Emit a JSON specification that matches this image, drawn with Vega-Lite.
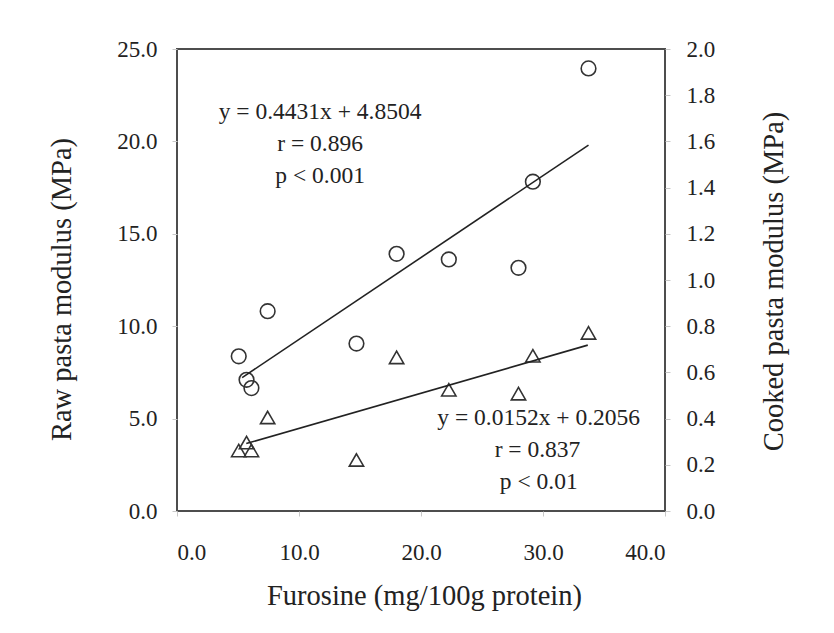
{
  "$schema": "https://vega.github.io/schema/vega-lite/v6.json",
  "width": 488,
  "height": 462,
  "autosize": "none",
  "padding": {"left": 177, "top": 49, "right": 169, "bottom": 122},
  "background": "white",
  "config": {
    "view": {"stroke": "#4d4d4d", "strokeWidth": 2},
    "axis": {
      "domain": false,
      "grid": false,
      "labelFont": "Liberation Serif",
      "titleFont": "Liberation Serif",
      "labelFontSize": 23,
      "titleFontSize": 28.5,
      "labelColor": "#222222",
      "titleColor": "#222222",
      "titleFontWeight": "normal",
      "tickColor": "#c8c8c8",
      "tickSize": 5
    },
    "text": {"font": "Liberation Serif"}
  },
  "datasets": {
    "samples": [
      {"furosine": 5.06, "raw": 8.37, "cooked": 0.262},
      {"furosine": 5.7, "raw": 7.1, "cooked": 0.296},
      {"furosine": 6.1, "raw": 6.65, "cooked": 0.262},
      {"furosine": 7.43, "raw": 10.81, "cooked": 0.405},
      {"furosine": 14.71, "raw": 9.06, "cooked": 0.221},
      {"furosine": 18.0, "raw": 13.92, "cooked": 0.665},
      {"furosine": 22.28, "raw": 13.61, "cooked": 0.525},
      {"furosine": 27.99, "raw": 13.16, "cooked": 0.508},
      {"furosine": 29.17, "raw": 17.82, "cooked": 0.672},
      {"furosine": 33.73, "raw": 23.95, "cooked": 0.771}
    ],
    "rawfit": [
      {"furosine": 5.34, "raw": 7.22},
      {"furosine": 33.73, "raw": 19.8}
    ],
    "cookedfit": [
      {"furosine": 5.68, "cooked": 0.292},
      {"furosine": 33.67, "cooked": 0.718}
    ],
    "rawnotes": [
      {"furosine": 11.73, "raw": 21.6, "label": "y = 0.4431x + 4.8504"},
      {"furosine": 11.73, "raw": 19.85, "label": "r = 0.896"},
      {"furosine": 11.73, "raw": 18.13, "label": "p < 0.001"}
    ],
    "cookednotes": [
      {"furosine": 29.65, "cooked": 0.402, "label": "y = 0.0152x + 0.2056"},
      {"furosine": 29.55, "cooked": 0.262, "label": "r = 0.837"},
      {"furosine": 29.65, "cooked": 0.127, "label": "p < 0.01"}
    ]
  },
  "layer": [
    {
      "layer": [
        {
          "data": {"name": "samples"},
          "mark": {"type": "point", "shape": "circle", "filled": false, "size": 215, "stroke": "#333333", "strokeWidth": 1.6, "opacity": 1},
          "encoding": {
            "x": {
              "field": "furosine", "type": "quantitative",
              "scale": {"domain": [0, 40], "nice": false},
              "axis": {
                "title": "Furosine (mg/100g protein)",
                "values": [0, 10, 20, 30, 40],
                "format": ".1f",
                "labelBaseline": "middle",
                "labelPadding": 36,
                "titleX": 247,
                "titleY": 84,
                "titleBaseline": "middle",
                "titleAlign": "center"
              }
            },
            "y": {
              "field": "raw", "type": "quantitative",
              "scale": {"domain": [0, 25], "nice": false},
              "axis": {
                "title": "Raw pasta modulus (MPa)",
                "values": [0, 5, 10, 15, 20, 25],
                "format": ".1f",
                "labelBaseline": "middle",
                "labelPadding": 15,
                "titleAngle": 270,
                "titleX": -116,
                "titleY": 240,
                "titleBaseline": "middle",
                "titleAlign": "center"
              }
            }
          }
        },
        {
          "data": {"name": "rawfit"},
          "mark": {"type": "line", "color": "#222222", "strokeWidth": 1.6},
          "encoding": {
            "x": {"field": "furosine", "type": "quantitative"},
            "y": {"field": "raw", "type": "quantitative"}
          }
        },
        {
          "data": {"name": "rawnotes"},
          "mark": {"type": "text", "fontSize": 23.5, "color": "#222222", "align": "center", "baseline": "middle", "font": "Liberation Serif"},
          "encoding": {
            "x": {"field": "furosine", "type": "quantitative"},
            "y": {"field": "raw", "type": "quantitative"},
            "text": {"field": "label", "type": "nominal"}
          }
        }
      ]
    },
    {
      "layer": [
        {
          "data": {"name": "samples"},
          "mark": {"type": "point", "shape": "triangle-up", "filled": false, "size": 205, "stroke": "#333333", "strokeWidth": 1.6, "opacity": 1},
          "encoding": {
            "x": {"field": "furosine", "type": "quantitative"},
            "y": {
              "field": "cooked", "type": "quantitative",
              "scale": {"domain": [0, 2], "nice": false},
              "axis": {
                "orient": "right",
                "title": "Cooked pasta modulus (MPa)",
                "values": [0, 0.2, 0.4, 0.6, 0.8, 1.0, 1.2, 1.4, 1.6, 1.8, 2.0],
                "format": ".1f",
                "labelBaseline": "middle",
                "labelPadding": 16,
                "titleAngle": 270,
                "titleX": 108,
                "titleY": 232,
                "titleBaseline": "middle",
                "titleAlign": "center"
              }
            }
          }
        },
        {
          "data": {"name": "cookedfit"},
          "mark": {"type": "line", "color": "#222222", "strokeWidth": 1.6},
          "encoding": {
            "x": {"field": "furosine", "type": "quantitative"},
            "y": {"field": "cooked", "type": "quantitative"}
          }
        },
        {
          "data": {"name": "cookednotes"},
          "mark": {"type": "text", "fontSize": 23.5, "color": "#222222", "align": "center", "baseline": "middle", "font": "Liberation Serif"},
          "encoding": {
            "x": {"field": "furosine", "type": "quantitative"},
            "y": {"field": "cooked", "type": "quantitative"},
            "text": {"field": "label", "type": "nominal"}
          }
        }
      ]
    }
  ],
  "resolve": {"scale": {"y": "independent"}}
}
